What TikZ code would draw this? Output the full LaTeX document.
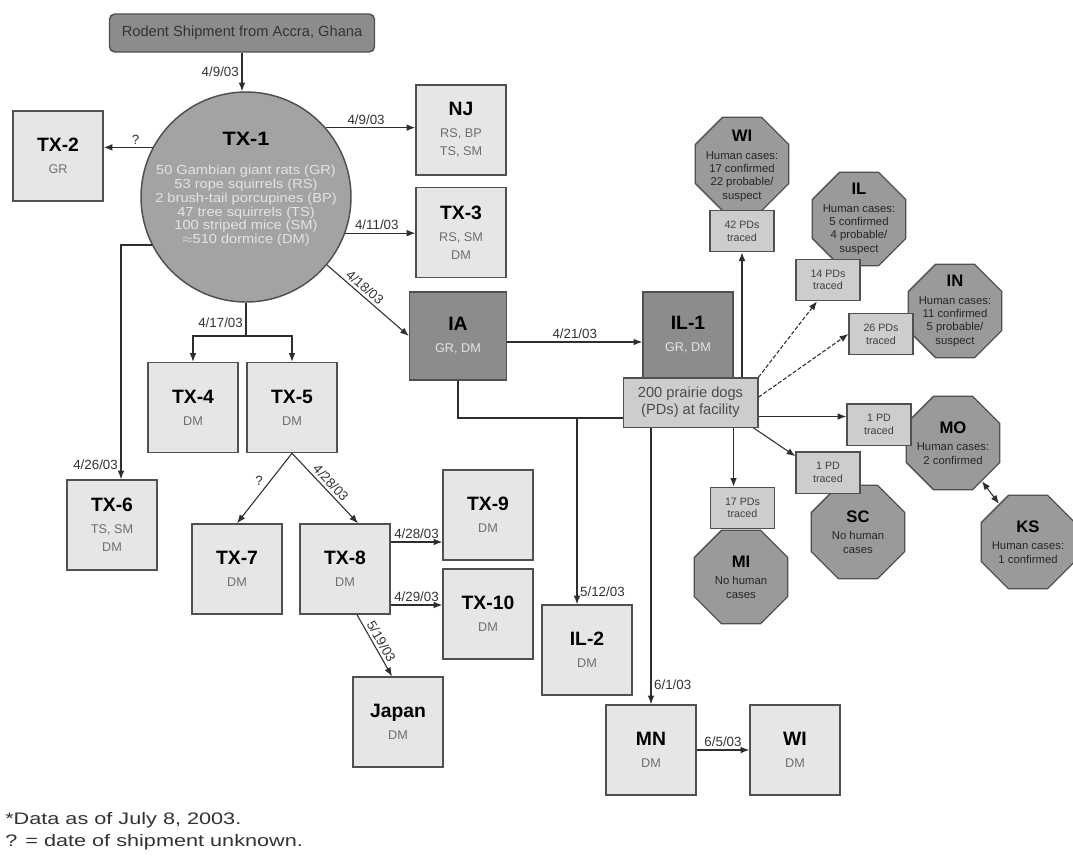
\documentclass[tikz,border=0pt]{standalone}
\usepackage{fontspec}
\setmainfont{Liberation Sans}
\usepackage{graphicx}
\usetikzlibrary{arrows.meta,shapes.geometric,calc}
\definecolor{bordc}{HTML}{505050}
\definecolor{lightfill}{HTML}{E6E6E6}
\definecolor{darkfill}{HTML}{8C8C8C}
\definecolor{circfill}{HTML}{A3A3A3}
\definecolor{octfill}{HTML}{9A9A9A}
\definecolor{pdfill}{HTML}{CDCDCD}
\definecolor{linec}{HTML}{2E2E2E}
\definecolor{subc}{HTML}{6E6E6E}
\definecolor{lighttext}{HTML}{E4E4E4}
\definecolor{lblc}{HTML}{333333}
\newcommand\ttl[1]{{\fontsize{14.5}{16}\selectfont\bfseries\color{black}#1}}
\newcommand\otl[1]{{\fontsize{12.5}{13}\selectfont\bfseries\color{black}#1}}
\begin{document}
\begin{tikzpicture}[x=0.75pt,y=-0.75pt,
  arr/.style={draw=linec, line width=0.8pt, -{Latex[length=6.5pt,width=5pt]}},
  dasharr/.style={arr, dash pattern=on 3pt off 1.5pt},
  plainline/.style={draw=linec, line width=0.8pt},
  dblarr/.style={draw=linec, line width=0.8pt, {Latex[length=6.5pt,width=5pt]}-{Latex[length=6.5pt,width=5pt]}},
  lbl/.style={font=\fontsize{10}{12}\selectfont, text=lblc, inner sep=2pt},
  lbox/.style={draw=bordc, line width=1.1pt, fill=lightfill, minimum width=67.5pt, minimum height=67.5pt, align=center, inner sep=0pt, text=subc, font=\fontsize{9.5}{13.5}\selectfont},
  dbox/.style={lbox, fill=darkfill, text=lighttext},
  srcbox/.style={draw=bordc, line width=1.1pt, fill=darkfill, rounded corners=4pt, minimum width=198.75pt, minimum height=28.5pt, font=\fontsize{11}{13}\selectfont, text=black!80},
  circ/.style={circle, draw=bordc, line width=1.1pt, fill=circfill, minimum size=157.5pt, inner sep=0pt},
  circtxt/.style={align=center, inner sep=0pt, text=lighttext, font=\fontsize{9.8}{10.3}\selectfont\addfontfeature{FakeStretch=1.12}},
  oct/.style={regular polygon, regular polygon sides=8, draw=bordc, line width=1pt, fill=octfill, minimum size=76pt, inner sep=0pt},
  octtxt/.style={align=center, inner sep=0pt, text=black!85, font=\fontsize{8.5}{10}\selectfont},
  pdb/.style={draw=bordc, line width=1pt, fill=pdfill, minimum width=48pt, minimum height=31pt, inner sep=0pt, align=center, text=black!75, font=\fontsize{8}{9.5}\selectfont},
  facb/.style={draw=bordc, line width=1pt, fill=pdfill, minimum width=101pt, minimum height=37pt, inner sep=0pt, align=center, text=black!70, font=\fontsize{11}{13}\selectfont},
  fnote/.style={anchor=west, inner sep=0pt, text=black!80, font=\fontsize{12.5}{14}\selectfont}
]
\useasboundingbox[fill=white] (0,0) rectangle (1073,861);

% ---- octagons (behind PD boxes)
\node[oct] (wioct) at (742,164) {};
\node[oct] (iloct) at (859,219) {};
\node[oct] (inoct) at (955,311) {};
\node[oct] (mooct) at (953,443) {};
\node[oct] (ksoct) at (1028,542) {};
\node[oct] (scoct) at (858,532) {};
\node[oct] (mioct) at (741,577) {};
\node[octtxt] (wit) at (742,166) {\otl{WI}\\[3pt]Human cases:\\17 confirmed\\22 probable/\\suspect};
\node[octtxt] (ilt) at (859,219) {\otl{IL}\\[3pt]Human cases:\\5 confirmed\\4 probable/\\suspect};
\node[octtxt] (int) at (955,311) {\otl{IN}\\[3pt]Human cases:\\11 confirmed\\5 probable/\\suspect};
\node[octtxt] (mot) at (953,443) {\otl{MO}\\[3pt]Human cases:\\2 confirmed};
\node[octtxt] (kst) at (1028,542) {\otl{KS}\\[3pt]Human cases:\\1 confirmed};
\node[octtxt] (sct) at (858,532) {\otl{SC}\\[3pt]No human\\cases};
\node[octtxt] (mit) at (741,577) {\otl{MI}\\[3pt]No human\\cases};

% ---- PD boxes
\node[pdb] (wipd) at (742,231) {42 PDs\\traced};
\node[pdb] (ilpd) at (828,280) {14 PDs\\traced};
\node[pdb] (inpd) at (881,334) {26 PDs\\traced};
\node[pdb] (mopd) at (879,424.5) {1 PD\\traced};
\node[pdb] (scpd) at (828,472.5) {1 PD\\traced};
\node[pdb] (mipd) at (742.5,508) {17 PDs\\traced};

% ---- main nodes
\node[srcbox] (src) at (242,33) {Rodent Shipment from Accra, Ghana};
\node[circ] (tx1) at (246,197) {};
\node[circtxt] (tx1t) at (246,189) {\ttl{TX-1}\\[12pt]50 Gambian giant rats (GR)\\53 rope squirrels (RS)\\2 brush-tail porcupines (BP)\\47 tree squirrels (TS)\\100 striped mice (SM)\\$\approx$510 dormice (DM)};
\node[lbox] (tx2) at (58,156) {\ttl{TX-2}\\[3pt]GR};
\node[lbox] (nj) at (461,130) {\ttl{NJ}\\[3pt]RS, BP\\TS, SM};
\node[lbox] (tx3) at (461,232.5) {\ttl{TX-3}\\[3pt]RS, SM\\DM};
\node[dbox, minimum width=72.75pt, minimum height=66pt] (ia) at (458,336) {\ttl{IA}\\[3pt]GR, DM};
\node[dbox, minimum height=64.5pt] (il1) at (688,335) {\ttl{IL-1}\\[3pt]GR, DM};
\node[facb] (pd) at (690.5,402.5) {200 prairie dogs\\(PDs) at facility};
\node[lbox] (tx4) at (193,407.5) {\ttl{TX-4}\\[3pt]DM};
\node[lbox] (tx5) at (292,407.5) {\ttl{TX-5}\\[3pt]DM};
\node[lbox] (tx6) at (112,525) {\ttl{TX-6}\\[3pt]TS, SM\\DM};
\node[lbox] (tx7) at (237,569) {\ttl{TX-7}\\[3pt]DM};
\node[lbox] (tx8) at (345,569) {\ttl{TX-8}\\[3pt]DM};
\node[lbox] (tx9) at (488,515) {\ttl{TX-9}\\[3pt]DM};
\node[lbox] (tx10) at (488,614) {\ttl{TX-10}\\[3pt]DM};
\node[lbox] (japan) at (398,722) {\ttl{Japan}\\[3pt]DM};
\node[lbox] (il2) at (587,650) {\ttl{IL-2}\\[3pt]DM};
\node[lbox] (mn) at (651,750) {\ttl{MN}\\[3pt]DM};
\node[lbox] (wi) at (795,750) {\ttl{WI}\\[3pt]DM};

% ---- footnotes
\node[fnote] (fn1) at (5,820) {\scalebox{1.3}[1]{*Data as of July 8, 2003.}};
\node[fnote] (fn2) at (5,842) {\scalebox{1.3}[1]{? = date of shipment unknown.}};

% ---- connectors
\draw[arr] (src.south) -- (src.south |- tx1.north) node[lbl,left,pos=0.5] {4/9/03};
\draw[arr] (tx1.152) -- (tx1.152 -| tx2.east) node[lbl,above,pos=0.35] {?};
\draw[arr] (tx1.41) -- (tx1.41 -| nj.west) node[lbl,above,pos=0.45] {4/9/03};
\draw[arr] (tx1.-20) -- (tx1.-20 -| tx3.west) node[lbl,above,pos=0.45] {4/11/03};
\draw[arr] (tx1.-40) -- (ia.west) node[lbl,sloped,above,pos=0.4] {4/18/03};
\coordinate (split) at (246,336);
\draw[plainline] (tx1.south) -- (split) node[lbl,left,pos=0.6] {4/17/03};
\draw[arr] (split) -| (tx4.north);
\draw[arr] (split) -| (tx5.north);
\coordinate (tx6in) at ([xshift=6.75pt]tx6.north);
\draw[arr] (tx1.207) -| (tx6in) node[lbl,left,pos=0.97] {4/26/03};
\draw[arr] (tx5.south) -- (tx7.north) node[lbl,left,pos=0.4,inner sep=5pt] {?};
\coordinate (tx8in) at ([xshift=9.75pt]tx8.north);
\draw[arr] (tx5.south) -- (tx8in) node[lbl,sloped,above,pos=0.5] {4/28/03};
\coordinate (tx8a) at ([yshift=20.25pt]tx8.east);
\draw[arr] (tx8a) -- (tx8a -| tx9.west) node[lbl,above,pos=0.5] {4/28/03};
\coordinate (tx8b) at ([yshift=-27pt]tx8.east);
\draw[arr] (tx8b) -- (tx8b -| tx10.west) node[lbl,above,pos=0.5] {4/29/03};
\coordinate (tx8c) at ([xshift=9pt]tx8.south);
\coordinate (japin) at ([xshift=-4.5pt]japan.north);
\draw[arr] (tx8c) -- (japin) node[lbl,sloped,above,pos=0.5] {5/19/03};
\coordinate (iaout) at ([yshift=-4.5pt]ia.east);
\draw[arr] (iaout) -- (iaout -| il1.west) node[lbl,above,pos=0.5] {4/21/03};
\coordinate (bendy) at ([yshift=-11.6pt]pd.west);
\draw[plainline] (ia.south) |- (bendy);
\coordinate (il2in) at ([xshift=-7.5pt]il2.north);
\draw[arr] (il2in |- bendy) -- (il2in) node[lbl,right,pos=0.93] {5/12/03};
\draw[arr] (pd.south -| mn.north) -- (mn.north) node[lbl,right,pos=0.93] {6/1/03};
\draw[arr] (mn.east) -- (wi.west) node[lbl,above,pos=0.5] {6/5/03};

% right side
\draw[arr] (pd.north -| wipd.south) -- (wipd.south);
\coordinate (ilpdin) at ([xshift=-8.25pt]ilpd.south);
\draw[dasharr] (pd.north east) -- (ilpdin);
\coordinate (pdouta) at ([yshift=4pt]pd.east);
\draw[dasharr] (pdouta) -- (inpd.west);
\coordinate (pdoutb) at ([yshift=-10.5pt]pd.east);
\draw[arr] (pdoutb) -- (pdoutb -| mopd.west);
\coordinate (pdoutc) at ([xshift=-3.75pt]pd.south east);
\coordinate (scpdin) at ([yshift=-3.75pt]scpd.north west);
\draw[arr] (pdoutc) -- (scpdin);
\coordinate (mipdin) at ([xshift=-6.75pt]mipd.north);
\draw[arr] (pd.south -| mipdin) -- (mipdin);
\draw[dblarr] (mooct) -- (ksoct);
\end{tikzpicture}
\end{document}
